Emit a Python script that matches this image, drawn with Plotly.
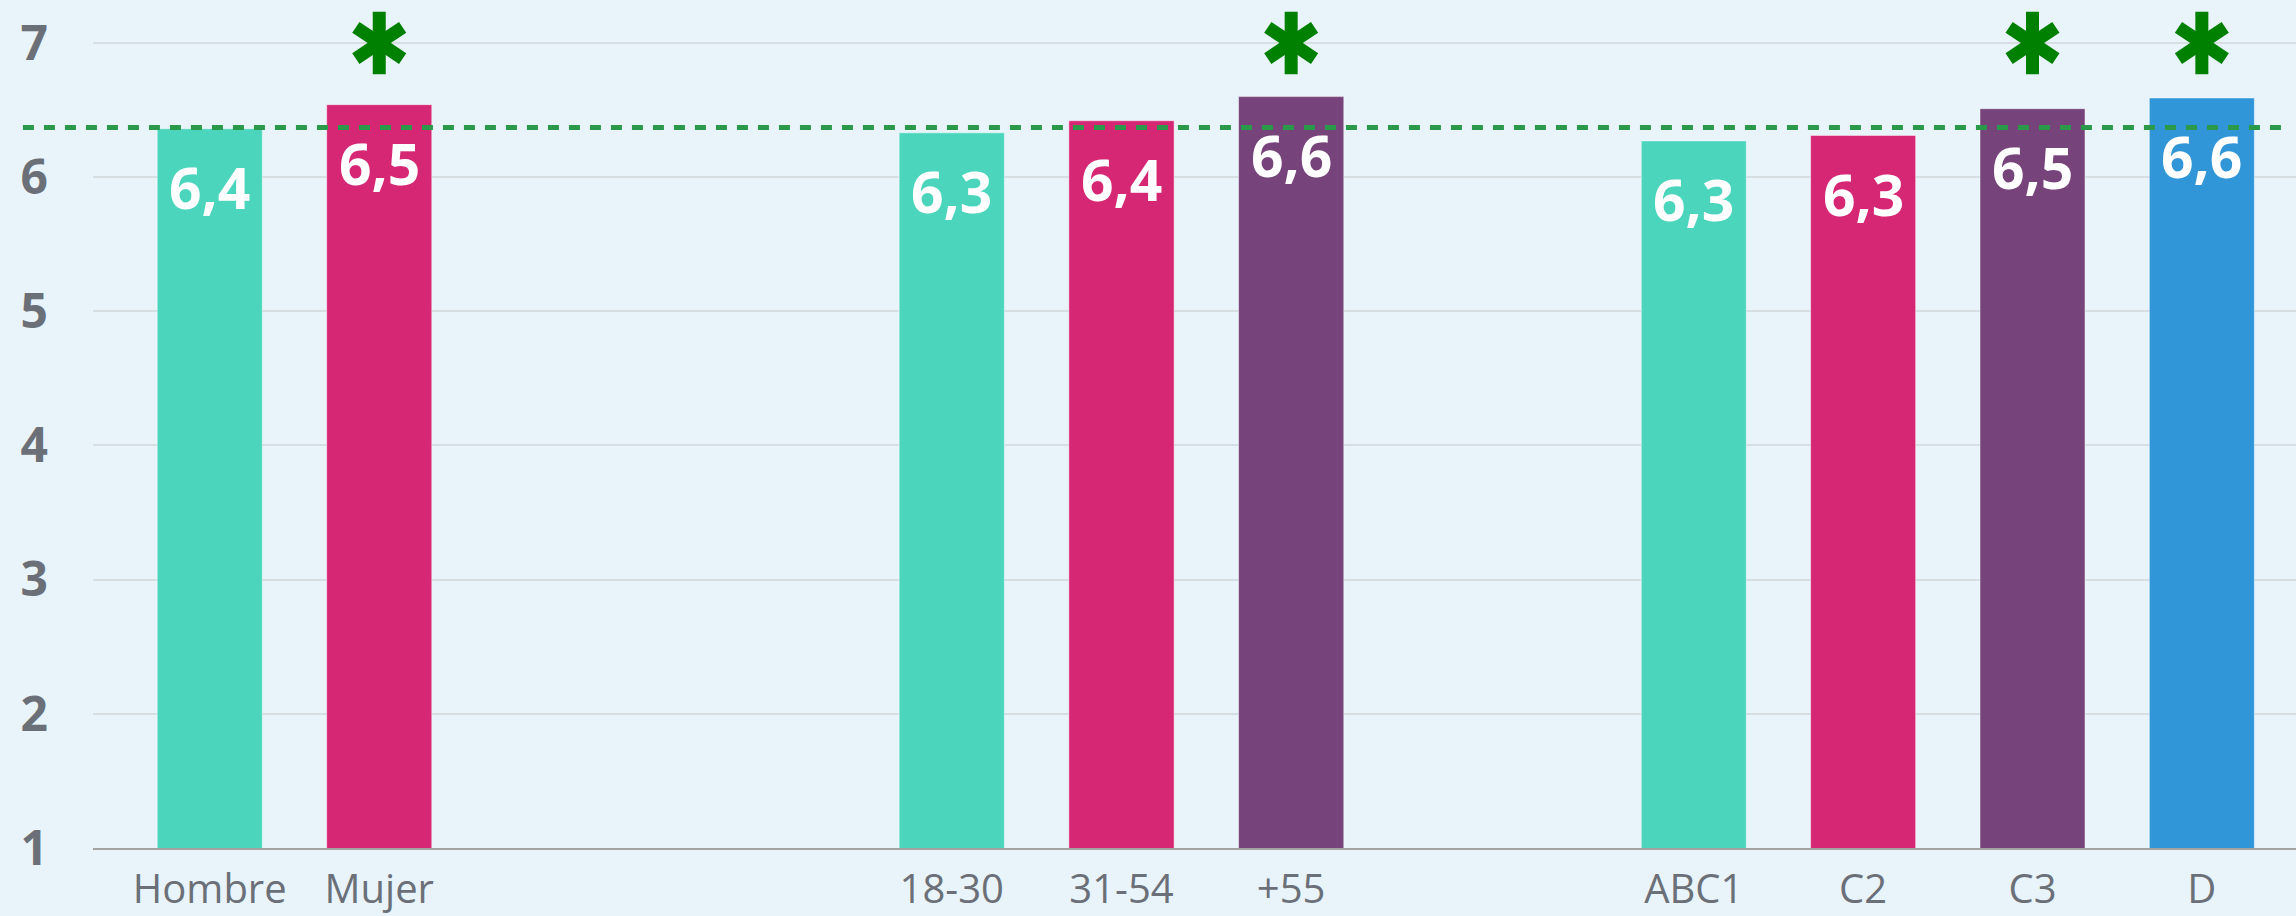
import plotly.graph_objects as go

# ---- data ----
categories_sexo = ["Hombre", "Mujer"]
values_sexo = [6.36, 6.54]
sig_sexo = [False, True]

categories_edad = ["18-30", "31-54", "+55"]
values_edad = [6.33, 6.42, 6.60]
sig_edad = [False, False, True]

categories_nse = ["ABC1", "C2", "C3", "D"]
values_nse = [6.27, 6.31, 6.51, 6.59]
sig_nse = [False, False, True, True]

promedio = 6.37
y_ticks = [1, 2, 3, 4, 5, 6, 7]

# ---- styles ----
BG = "#E8F4FA"
COLORS = ["#4CD5BD", "#D62774", "#76447B", "#3096D8"]
GRAY = "#6B7078"
GREEN = "#008000"
ASTER_Y = 7.0

groups = [
    ("x2", categories_sexo, values_sexo, sig_sexo, [0.01453, 0.1684]),
    ("x3", categories_edad, values_edad, sig_edad, [0.3513, 0.5824]),
    ("x4", categories_nse, values_nse, sig_nse, [0.6882, 0.9957]),
]

fig = go.Figure()
fig.add_trace(go.Scatter(x=[], y=[], xaxis="x", yaxis="y", showlegend=False, hoverinfo="skip"))

layout_axes = {}
annotations = []
for ax, cats, vals, sig, dom in groups:
    fig.add_trace(go.Bar(
        x=cats, y=vals, xaxis=ax, yaxis="y",
        marker=dict(color=COLORS[:len(cats)], line=dict(color="rgba(255,255,255,0.45)", width=1)),
        showlegend=False, hoverinfo="skip",
    ))
    for i, v in enumerate(vals):
        annotations.append(dict(
            x=i, y=v, xref=ax, yref="y", yanchor="top", xanchor="center", yshift=-17,
            text=f"{v:.1f}".replace(".", ","), showarrow=False,
            font=dict(family="Open Sans", size=57, color="white", weight="bold"),
        ))
    sx = [c for c, s in zip(cats, sig) if s]
    for sym in ["y-up-open", "y-down-open"]:
        fig.add_trace(go.Scatter(
            x=sx, y=[ASTER_Y] * len(sx), xaxis=ax, yaxis="y", mode="markers",
            marker=dict(symbol=sym, size=39, color=GREEN, line=dict(color=GREEN, width=13)),
            showlegend=False, hoverinfo="skip", cliponaxis=False,
        ))
    layout_axes["xaxis" + ax[1:]] = dict(
        domain=dom, anchor="y", type="category", categoryorder="array", categoryarray=cats,
        range=[-0.5, len(cats) - 0.5],
        showgrid=False, showline=False, zeroline=False, ticks="", automargin=False,
        tickfont=dict(family="Open Sans", size=40, color=GRAY),
        ticklabelstandoff=14,
    )

fig.update_layout(
    width=2296, height=916,
    margin=dict(l=93, r=0, t=0, b=68),
    paper_bgcolor=BG, plot_bgcolor=BG,
    bargap=0.38,
    xaxis=dict(domain=[0, 1], anchor="y", range=[0, 1], showgrid=False, zeroline=False, automargin=False,
               showticklabels=False, showline=True, linecolor="#A3A3A3", linewidth=2, fixedrange=True),
    yaxis=dict(domain=[0, 1], anchor="x", range=[1, 7.32], tickvals=y_ticks, automargin=False,
               showgrid=True, gridcolor="#D6DEE2", gridwidth=1.5, zeroline=False, showline=False,
               tickfont=dict(family="Open Sans", size=48, color=GRAY, weight="bold"),
               ticklabelstandoff=44),
    annotations=annotations,
    **layout_axes,
)

fig.add_shape(type="line", xref="paper", yref="y", x0=-0.0318, x1=0.997, y0=promedio, y1=promedio,
              line=dict(color="#2A9A4A", width=5, dash="11px,10px"), layer="above")

fig.write_html(
    "out.html",
    config={"displayModeBar": False},
    post_script="document.body.style.margin='0';document.body.style.background='" + BG + "';",
)
